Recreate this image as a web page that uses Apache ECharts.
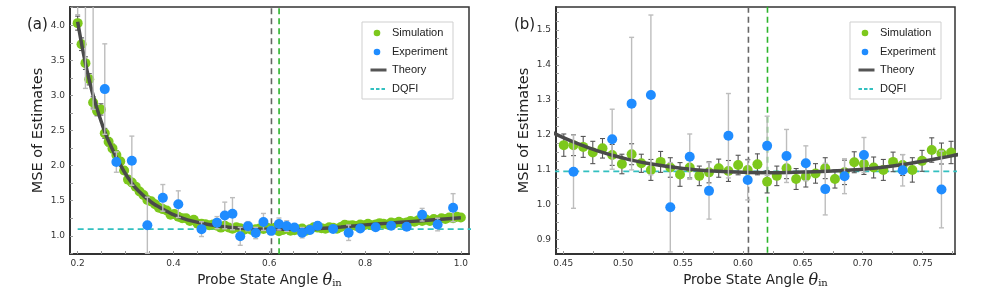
<!DOCTYPE html>
<html><head><meta charset="utf-8">
<script src="https://cdn.jsdelivr.net/npm/echarts@6/dist/echarts.min.js"></script>
<style>html,body{margin:0;padding:0;background:#fff}#c{width:996px;height:291px}</style>
</head><body><div id="c"></div>
<script>
// ---------- data ----------
const simX = [0.2000,0.2081,0.2162,0.2242,0.2323,0.2404,0.2485,0.2566,0.2646,0.2727,
  0.2808,0.2889,0.2970,0.3051,0.3131,0.3212,0.3293,0.3374,0.3455,0.3535,
  0.3616,0.3697,0.3778,0.3859,0.3939,0.4020,0.4101,0.4182,0.4263,0.4343,
  0.4424,0.4505,0.4586,0.4667,0.4747,0.4828,0.4909,0.4990,0.5071,0.5152,
  0.5232,0.5313,0.5394,0.5475,0.5556,0.5636,0.5717,0.5798,0.5879,0.5960,
  0.6040,0.6121,0.6202,0.6283,0.6364,0.6444,0.6525,0.6606,0.6687,0.6768,
  0.6848,0.6929,0.7010,0.7091,0.7172,0.7253,0.7333,0.7414,0.7495,0.7576,
  0.7657,0.7737,0.7818,0.7899,0.7980,0.8061,0.8141,0.8222,0.8303,0.8384,
  0.8465,0.8545,0.8626,0.8707,0.8788,0.8869,0.8949,0.9030,0.9111,0.9192,
  0.9273,0.9354,0.9434,0.9515,0.9596,0.9677,0.9758,0.9838,0.9919,1.0000];
const simY = [4.03,3.73,3.46,3.23,2.90,2.78,2.80,2.46,2.34,2.245,
  2.15,2.06,1.93,1.80,1.76,1.70,1.63,1.58,1.51,1.49,
  1.45,1.40,1.38,1.36,1.30,1.31,1.27,1.25,1.25,1.21,
  1.228,1.170,1.170,1.165,1.149,1.161,1.142,1.116,1.144,1.118,
  1.099,1.122,1.106,1.086,1.106,1.082,1.092,1.104,1.096,1.113,
  1.099,1.115,1.065,1.082,1.104,1.073,1.080,1.089,1.104,1.073,
  1.092,1.121,1.116,1.106,1.099,1.122,1.113,1.099,1.125,1.156,
  1.146,1.149,1.14,1.16,1.15,1.17,1.15,1.16,1.18,1.17,
  1.16,1.19,1.18,1.20,1.18,1.19,1.21,1.20,1.22,1.21,
  1.23,1.21,1.24,1.22,1.25,1.24,1.26,1.25,1.27,1.26];
const simErr = [0.10,0.09,0.09,0.08,0.08,0.07,0.08,0.07,0.06,0.06,
  0.06,0.055,0.05,0.05,0.05,0.045,0.045,0.045,0.04,0.04,
  0.04,0.04,0.038,0.038,0.036,0.036,0.035,0.035,0.034,0.034,
  0.034,0.032,0.03,0.03,0.032,0.028,0.03,0.028,0.03,0.026,
  0.03,0.03,0.028,0.034,0.03,0.028,0.03,0.026,0.03,0.028,
  0.03,0.03,0.032,0.028,0.03,0.03,0.03,0.028,0.03,0.026,
  0.035,0.03,0.03,0.03,0.03,0.028,0.03,0.035,0.03,0.035,
  0.03,0.032,0.03,0.03,0.032,0.03,0.03,0.032,0.03,0.03,
  0.03,0.032,0.03,0.03,0.032,0.03,0.03,0.032,0.03,0.032,
  0.03,0.032,0.032,0.03,0.034,0.032,0.032,0.034,0.032,0.034];
const expX = [0.2000,0.2162,0.2323,0.2566,0.2808,0.3131,0.3455,0.3778,0.4101,0.4586,
  0.4909,0.5071,0.5232,0.5394,0.5556,0.5717,0.5879,0.6040,0.6202,0.6364,
  0.6525,0.6687,0.6848,0.7010,0.7333,0.7657,0.7899,0.8222,0.8545,0.8869,
  0.9192,0.9515,0.9838];
const expY = [5.3,5.6,5.7,3.09,2.05,2.07,1.15,1.54,1.45,1.094,
  1.187,1.289,1.314,0.992,1.137,1.039,1.197,1.070,1.168,1.139,
  1.118,1.044,1.081,1.142,1.098,1.043,1.105,1.12,1.142,1.128,
  1.30,1.16,1.40];
const expErr = [1.15,2.5,2.9,0.645,0.145,0.35,0.40,0.19,0.19,0.105,
  0.086,0.19,0.229,0.128,0.065,0.081,0.121,0.057,0.085,0.076,
  0.05,0.074,0.05,0.05,0.045,0.11,0.03,0.03,0.03,0.03,
  0.09,0.09,0.2];
const theoryX = [0.20,0.21,0.22,0.23,0.24,0.25,0.26,0.27,0.28,0.29,0.30,0.31,0.32,0.33,0.34,0.35,0.36,0.37,0.38,0.39,0.40,
  0.42,0.44,0.46,0.48,0.50,0.52,0.55,0.575,0.60,0.625,0.65,0.675,0.70,0.725,0.75,0.775,0.80,0.85,0.90,0.95,1.00];
const theoryY = [4.05,3.67,3.34,3.06,2.82,2.61,2.42,2.27,2.13,2.00,1.88,1.78,1.69,1.62,1.555,1.50,1.45,1.41,1.37,1.335,1.30,
  1.248,1.208,1.177,1.152,1.133,1.118,1.103,1.096,1.092,1.091,1.093,1.096,1.101,1.11,1.124,1.14,1.155,1.18,1.205,1.23,1.255];
const dqfiValue = 1.095;
const lineGrayX = 0.6046;
const lineGreenX = 0.6205;
const xTicksA = [0.2,0.4,0.6,0.8,1.0];
const yTicksA = [1.0,1.5,2.0,2.5,3.0,3.5,4.0];
const xTicksB = [0.45,0.50,0.55,0.60,0.65,0.70,0.75];
const yTicksB = [0.9,1.0,1.1,1.2,1.3,1.4,1.5];
const legendLabels = ['Simulation','Experiment','Theory','DQFI'];

// ---------- styles ----------
const C_SIM = '#7dc81c', C_EXP = '#1f8cff', C_TH = '#4a4a4a', C_DQ = '#33c0c0';
const FONT = 'DejaVu Sans';

const simData = simX.map((x,i)=>[x, simY[i], simErr[i]]);
const expData = expX.map((x,i)=>[x, expY[i], expErr[i]]);
const thData = theoryX.map((x,i)=>[x, theoryY[i]]);

function errBar(color, width, cap) {
  return function(params, api) {
    const x = api.value(0), y = api.value(1), e = api.value(2);
    const t = api.coord([x, y + e]), b = api.coord([x, y - e]);
    const hw = cap / 2;
    const style = {stroke: color, lineWidth: width};
    return {type:'group', children:[
      {type:'line', shape:{x1:t[0],y1:t[1],x2:b[0],y2:b[1]}, style},
      {type:'line', shape:{x1:t[0]-hw,y1:t[1],x2:t[0]+hw,y2:t[1]}, style},
      {type:'line', shape:{x1:b[0]-hw,y1:b[1],x2:b[0]+hw,y2:b[1]}, style}
    ]};
  };
}

function minorList(a, b, step) {
  const out = [];
  for (let v = a; v <= b + 1e-9; v += step) out.push(+v.toFixed(4));
  return out;
}

function xAxisCfg(g, min, max, ticks, minor, dec) {
  return {
    type:'value', gridIndex:g, min, max,
    splitLine:{show:false},
    axisLine:{show:true, onZero:false, lineStyle:{color:'#333', width:2}},
    axisTick:{show:true, inside:true, length:3, customValues: minor, lineStyle:{color:'#999', width:1}},
    axisLabel:{customValues: ticks, formatter: v => v.toFixed(dec), color:'#333', fontSize:9, fontFamily:FONT, margin:5},
    name:'Probe State Angle {th|θ}{sub|in}', nameLocation:'middle', nameGap:17,
    nameTextStyle:{color:'#222', fontSize:13.5, fontFamily:FONT, verticalAlign:'top',
      rich:{th:{fontFamily:'DejaVu Serif', fontStyle:'italic', fontSize:16, color:'#222'},
            sub:{fontFamily:'DejaVu Serif', fontSize:10, color:'#222', padding:[6,0,0,0]}}}
  };
}
function yAxisCfg(g, min, max, ticks, minor, dec) {
  return {
    type:'value', gridIndex:g, min, max,
    splitLine:{show:false},
    axisLine:{show:true, onZero:false, lineStyle:{color:'#333', width:2}},
    axisTick:{show:true, inside:true, length:3, customValues: minor, lineStyle:{color:'#999', width:1}},
    axisLabel:{customValues: ticks, formatter: v => v.toFixed(dec), color:'#333', fontSize:9, fontFamily:FONT, margin:5},
    name:'MSE of Estimates', nameLocation:'middle', nameGap:24,
    nameTextStyle:{color:'#222', fontSize:14.5, fontFamily:FONT}
  };
}

function panelSeries(p, xmin, xmax, ymin, ymax, dqStart) {
  return [
    {type:'line', xAxisIndex:p, yAxisIndex:p, data:[[dqStart, dqfiValue],[xmax+0.1, dqfiValue]], symbol:'none', silent:true, z:1,
      lineStyle:{color:C_DQ, width:1.8, type:[6,4]}},
    {type:'line', xAxisIndex:p, yAxisIndex:p, data:[[lineGrayX, ymin-1],[lineGrayX, ymax+3]], symbol:'none', silent:true, z:1,
      lineStyle:{color:'#666', width:1.6, type:[6,4]}},
    {type:'line', xAxisIndex:p, yAxisIndex:p, data:[[lineGreenX, ymin-1],[lineGreenX, ymax+3]], symbol:'none', silent:true, z:1,
      lineStyle:{color:'#2cb52c', width:1.6, type:[6,4]}},
    {type:'custom', xAxisIndex:p, yAxisIndex:p, data:simData, renderItem:errBar('#555', 1.1, 5), clip:true, z:2, silent:true},
    {type:'scatter', xAxisIndex:p, yAxisIndex:p, data:simData.map(d=>[d[0],d[1]]), symbolSize:10, clip:true, z:3,
      itemStyle:{color:C_SIM, opacity:1}},
    {type:'line', xAxisIndex:p, yAxisIndex:p, data:thData, symbol:'none', smooth:0.4, z:4, silent:true,
      lineStyle:{color:C_TH, width:3.5}},
    {type:'custom', xAxisIndex:p, yAxisIndex:p, data:expData, renderItem:errBar('#bdbdbd', 1.4, 5), clip:true, z:5, silent:true},
    {type:'scatter', xAxisIndex:p, yAxisIndex:p, data:expData.map(d=>[d[0],d[1]]), symbolSize:10, clip:true, z:6,
      itemStyle:{color:C_EXP, opacity:1}}
  ];
}

function legendGroup(x0) {
  const rows = [33, 52, 70, 89];
  const ch = [
    {type:'rect', shape:{x:x0, y:22, width:91, height:77}, style:{fill:'#fff', stroke:'#cfcfcf', lineWidth:1}},
    {type:'circle', shape:{cx:x0+15, cy:rows[0], r:3.3}, style:{fill:C_SIM}},
    {type:'circle', shape:{cx:x0+15, cy:rows[1], r:3.3}, style:{fill:C_EXP}},
    {type:'line', shape:{x1:x0+8.5, y1:rows[2], x2:x0+24.5, y2:rows[2]}, style:{stroke:'#555', lineWidth:3}},
    {type:'line', shape:{x1:x0+8.5, y1:rows[3], x2:x0+24.5, y2:rows[3]}, style:{stroke:C_DQ, lineWidth:2, lineDash:[3.5,2]}}
  ];
  legendLabels.forEach((t,i)=>{
    ch.push({type:'text', x:x0+30, y:rows[i], style:{text:t, fill:'#222', font:'11px "Liberation Sans"', verticalAlign:'middle', align:'left'}});
  });
  return {type:'group', silent:true, z:50, children:ch};
}

const A = {xmin:0.184, xmax:1.017, ymin:0.74, ymax:4.26};
const B = {xmin:0.444, xmax:0.777, ymin:0.858, ymax:1.566};

const option = {
  animation:false,
  backgroundColor:'#fff',
  grid:[
    {left:70, top:7, width:399, height:247, outerBoundsMode:'none', containLabel:false, show:true, borderColor:'#333', borderWidth:1.5, backgroundColor:'transparent'},
    {left:556, top:7, width:399, height:247, outerBoundsMode:'none', containLabel:false, show:true, borderColor:'#333', borderWidth:1.5, backgroundColor:'transparent'}
  ],
  xAxis:[
    xAxisCfg(0, A.xmin, A.xmax, xTicksA, minorList(0.2, 1.0, 0.05), 1),
    xAxisCfg(1, B.xmin, B.xmax, xTicksB, minorList(0.45, 0.775, 0.025), 2)
  ],
  yAxis:[
    yAxisCfg(0, A.ymin, A.ymax, yTicksA, minorList(0.75, 4.25, 0.25), 1),
    yAxisCfg(1, B.ymin, B.ymax, yTicksB, minorList(0.875, 1.55, 0.025), 1)
  ],
  series:[].concat(panelSeries(0, A.xmin, A.xmax, A.ymin, A.ymax, 0.2), panelSeries(1, B.xmin, B.xmax, B.ymin, B.ymax, 0.4)),
  graphic:[
    legendGroup(362), legendGroup(850),
    {type:'text', x:27, y:25, silent:true, style:{text:'(a)', fill:'#222', font:'15px "DejaVu Sans"', verticalAlign:'middle'}},
    {type:'text', x:514, y:25, silent:true, style:{text:'(b)', fill:'#222', font:'15px "DejaVu Sans"', verticalAlign:'middle'}}
  ]
};
const chart = echarts.init(document.getElementById('c'), null, {renderer:'canvas'});
chart.setOption(option);
</script>
</body></html>
